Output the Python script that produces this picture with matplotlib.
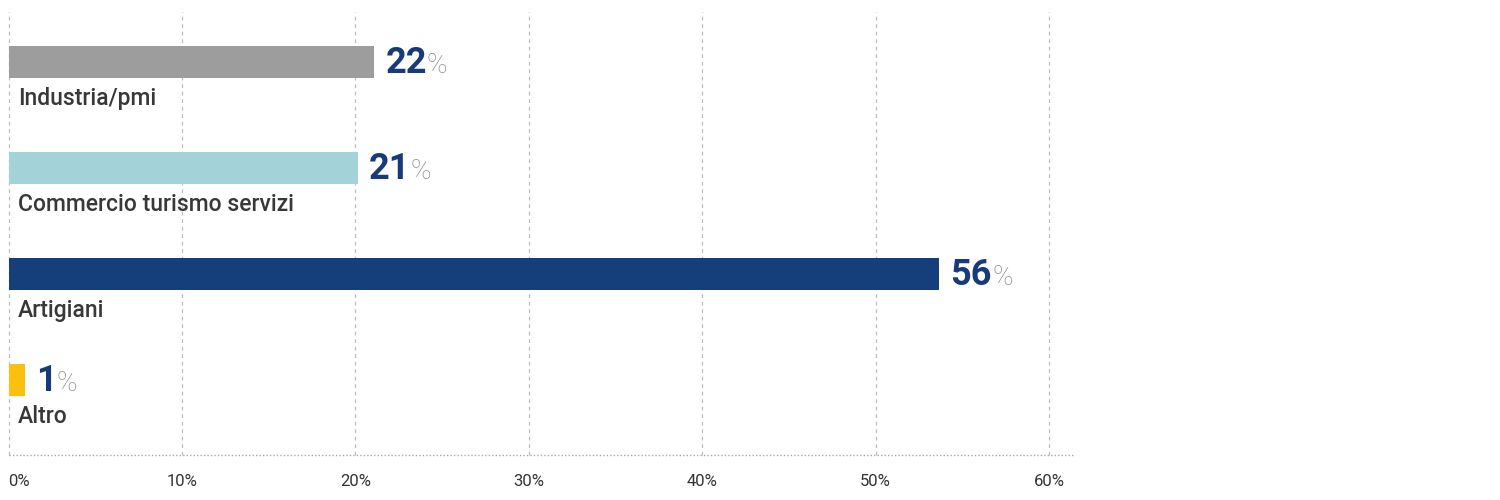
import matplotlib
matplotlib.use('Agg')
import matplotlib.pyplot as plt
from matplotlib.lines import Line2D

# Data
categories = ['Industria/pmi', 'Commercio turismo servizi', 'Artigiani', 'Altro']
values = [22, 21, 56, 1]
colors = ['#9d9d9d', '#a3d3d9', '#143f7a', '#fbbf0e']
ticks = [0, 10, 20, 30, 40, 50, 60]
tick_labels = ['0%', '10%', '20%', '30%', '40%', '50%', '60%']

plt.rcParams['font.family'] = ['Roboto', 'DejaVu Sans']

fig = plt.figure(figsize=(15, 5), dpi=100)
ax = fig.add_axes([0.0057, 0.09, 0.6937, 0.886])

# grid / tick axis (scale of the printed ticks)
ax.set_xlim(0, 60)
ax.set_xticks(ticks)
ax.set_xticklabels(tick_labels, fontsize=12, color='#333333')
ax.get_xticklabels()[0].set_horizontalalignment('left')
ax.tick_params(axis='x', length=0, pad=14)
ax.set_yticks([])
for t in ticks:
    ax.axvline(t, color='#bdbdbd', linestyle=(0, (3, 3)), linewidth=0.9,
               clip_on=False, zorder=0)
for s in ax.spines.values():
    s.set_visible(False)

# bar axis: bars in the original are drawn on a slightly compressed scale
axb = ax.twiny()
axb.set_xlim(0, 62.6)
axb.set_ylim(3.708, -0.472)
axb.set_xticks([])
axb.patch.set_visible(False)
for s in axb.spines.values():
    s.set_visible(False)

y = list(range(len(categories)))
axb.barh(y, values, height=0.31, color=colors, zorder=3)

for i, (cat, v) in enumerate(zip(categories, values)):
    t = axb.annotate(str(v), xy=(v, i), xytext=(8, -1), textcoords='offset points',
                     ha='left', va='center', fontsize=26, fontweight='bold',
                     color='#173a7a')
    axb.annotate('%', xy=(1, 0.06), xycoords=t, ha='left', va='bottom',
                 fontsize=20, color='#8f8f8f', fontweight='light')
    axb.annotate(cat, xy=(0, i), xytext=(7, -26), textcoords='offset points',
                 ha='left', va='center', fontsize=16.5, color='#383838',
                 fontweight='medium')

# dotted baseline extending past the last gridline
fig.add_artist(Line2D([0.006, 0.715], [0.09, 0.09], transform=fig.transFigure,
                      color='#aaaaaa', linestyle=(0, (1, 1.5)), linewidth=1))

plt.savefig('out.png', dpi=100)
plt.close()
